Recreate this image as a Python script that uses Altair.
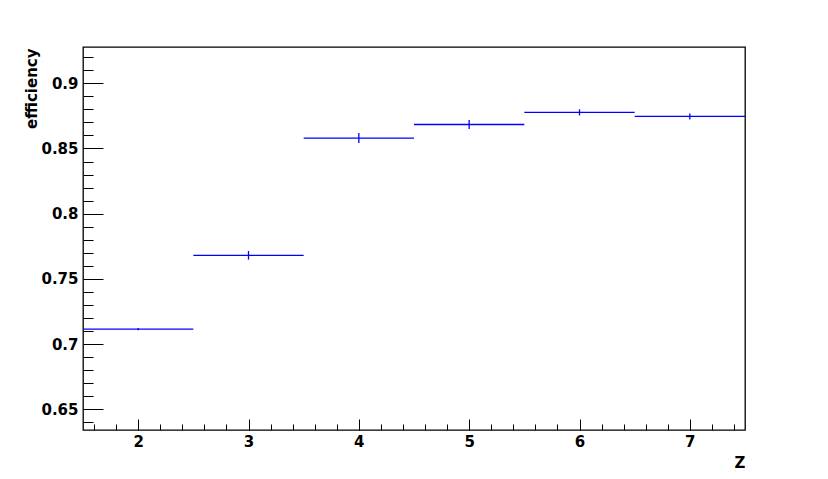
import altair as alt
import pandas as pd

# data
z_values = [2, 3, 4, 5, 6, 7]
efficiency = [0.7115, 0.7681, 0.8580, 0.8684, 0.8777, 0.8746]
eff_error = [0.0008, 0.0033, 0.0038, 0.0035, 0.0023, 0.0023]
bin_half_width = [0.5, 0.5, 0.5, 0.5, 0.5, 0.5]

x_major = [2, 3, 4, 5, 6, 7]
x_minor = [1.6, 1.8, 2.0, 2.2, 2.4, 2.6, 2.8, 3.0, 3.2, 3.4, 3.6, 3.8, 4.0, 4.2, 4.4,
           4.6, 4.8, 5.0, 5.2, 5.4, 5.6, 5.8, 6.0, 6.2, 6.4, 6.6, 6.8, 7.0, 7.2, 7.4]
y_major = [0.65, 0.7, 0.75, 0.8, 0.85, 0.9]
y_minor = [0.64, 0.65, 0.66, 0.67, 0.68, 0.69, 0.70, 0.71, 0.72, 0.73, 0.74, 0.75, 0.76,
           0.77, 0.78, 0.79, 0.80, 0.81, 0.82, 0.83, 0.84, 0.85, 0.86, 0.87, 0.88, 0.89,
           0.90, 0.91, 0.92]
y_labels = [0.65, 0.7, 0.75, 0.8, 0.85, 0.9]

x_domain = [1.5, 7.5]
y_domain = [0.6342, 0.9278]

df = pd.DataFrame({
    "z": z_values,
    "eff": efficiency,
    "lo": [z - h for z, h in zip(z_values, bin_half_width)],
    "hi": [z + h for z, h in zip(z_values, bin_half_width)],
    "elo": [e - d for e, d in zip(efficiency, eff_error)],
    "ehi": [e + d for e, d in zip(efficiency, eff_error)],
})

W, H = 662, 383
FONT = "DejaVu Sans"
BLUE = "#0000ff"

xs = alt.Scale(domain=x_domain, nice=False, zero=False)
ys = alt.Scale(domain=y_domain, nice=False, zero=False)

base = alt.Chart(df)

# label axes (no ticks)
hbars = base.mark_rule(color=BLUE, strokeWidth=1.3).encode(
    x=alt.X("lo:Q", scale=xs, axis=alt.Axis(
        values=x_major, format="d", ticks=False, domain=False, grid=False,
        labelPadding=4, labelFontSize=15, labelFont=FONT, labelFontWeight="bold",
        labelColor="black",
        title="Z", titleFont=FONT, titleFontSize=15, titleFontWeight="bold",
        titleAnchor="end", titleAlign="right", titleX=W, titleY=37,
        titleBaseline="alphabetic", titleColor="black")),
    x2="hi:Q",
    y=alt.Y("eff:Q", scale=ys, axis=alt.Axis(
        values=y_labels, format="~g", ticks=False, domain=False, grid=False,
        labelPadding=5, labelFontSize=15, labelFont=FONT, labelFontWeight="bold",
        labelColor="black",
        title="efficiency", titleFont=FONT, titleFontSize=15, titleFontWeight="bold",
        titleAngle=270, titleAlign="right", titleBaseline="middle",
        titleX=-52, titleY=1, titleColor="black")),
)

ebars = base.mark_rule(color=BLUE, strokeWidth=1.3).encode(
    x=alt.X("z:Q", scale=xs, axis=None),
    y=alt.Y("elo:Q", scale=ys, axis=None),
    y2="ehi:Q",
)

def tick_layer(xvals, yvals, xlen, ylen):
    return base.mark_point(opacity=0).encode(
        x=alt.X("z:Q", scale=xs, axis=alt.Axis(
            orient="top", offset=-H, values=xvals, labels=False, domain=False,
            grid=False, ticks=True, tickSize=xlen, tickColor="black", tickWidth=1,
            title=None)),
        y=alt.Y("eff:Q", scale=ys, axis=alt.Axis(
            orient="right", offset=-W, values=yvals, labels=False, domain=False,
            grid=False, ticks=True, tickSize=ylen, tickColor="black", tickWidth=1,
            title=None)),
    )

major = tick_layer(x_major, y_major, 11, 20)
minor = tick_layer(x_minor, y_minor, 6, 10)

chart = alt.layer(hbars, ebars, major, minor).resolve_axis(
    x="independent", y="independent"
).properties(
    width=W, height=H,
    background="white",
    autosize=alt.AutoSizeParams(type="none"),
    padding={"left": 75, "top": 39, "right": 75, "bottom": 41},
).configure_view(
    stroke="black", strokeWidth=1.3
)

chart.save("out.html", embed_options={"renderer": "svg", "actions": False})
